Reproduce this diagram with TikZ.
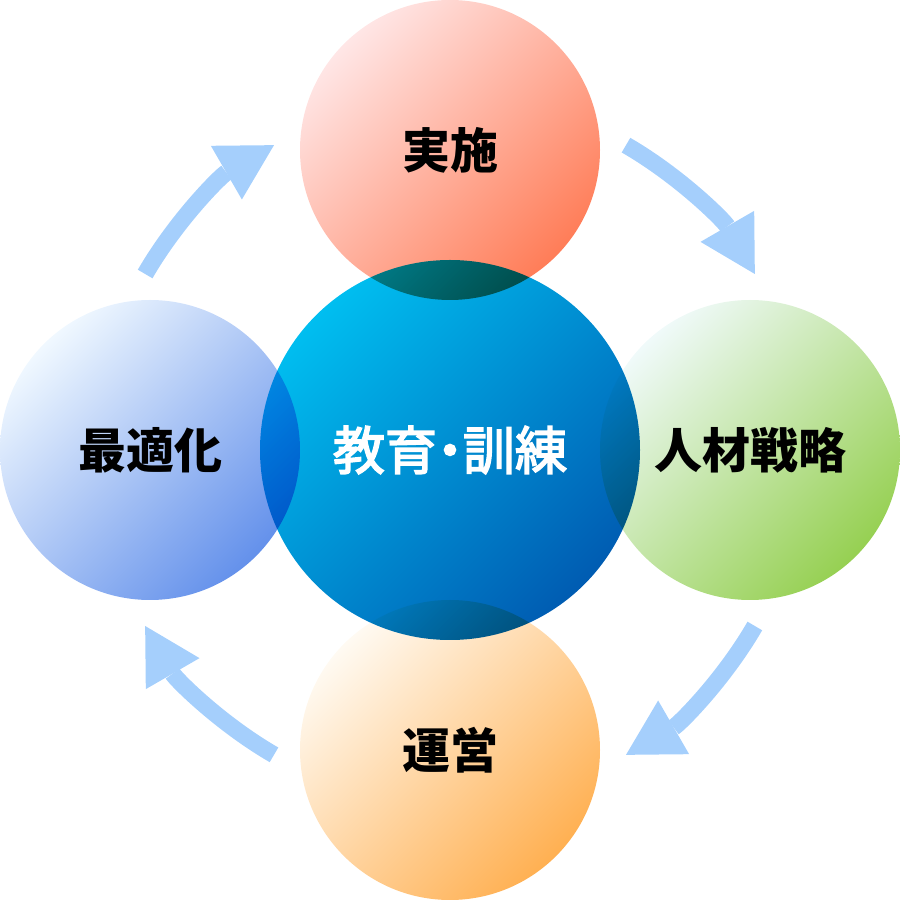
\documentclass[tikz,border=0pt]{standalone}
\usepackage{fontspec}
\usepackage{tikz}
\usetikzlibrary{positioning, shapes, arrows.meta, calc}
\newfontfamily\jpfont{Noto Sans CJK JP}
\newfontfamily\jpmid{Noto Sans CJK JP}[FakeBold=3]

\definecolor{arrowblue}{RGB}{165,207,252}
\definecolor{planA}{RGB}{255,230,230}
\definecolor{planB}{RGB}{255,125,88}
\definecolor{stratA}{RGB}{240,250,250}
\definecolor{stratB}{RGB}{150,208,82}
\definecolor{operA}{RGB}{255,250,242}
\definecolor{operB}{RGB}{255,176,82}
\definecolor{optiA}{RGB}{240,248,255}
\definecolor{optiB}{RGB}{100,145,235}
\definecolor{coreA}{RGB}{0,190,240}
\definecolor{coreB}{RGB}{0,92,178}

\begin{document}
\begin{tikzpicture}[x=1pt, y=1pt,
    ring/.style={circle, minimum size=300pt, inner sep=0pt,
        font=\jpfont\bfseries\fontsize{48}{56}\selectfont},
    fade/.style 2 args={top color=#1, bottom color=#2, shading angle=45},
    cyclearrow/.style={line width=17pt, draw=arrowblue,
        -{Triangle[width=62pt, length=55pt, line width=0pt]}}]
    % Fix the canvas
    \useasboundingbox (0,0) rectangle (900,900);
    \coordinate (mid) at (450,450);

    % Draw the outer circles
    \node[ring, fade={planA}{planB}] (plan) at ($(mid)+(0,300)$) {実施};
    \node[ring, fade={stratA}{stratB}] (strategy) at ($(mid)+(300,0)$) {人材戦略};
    \node[ring, fade={operA}{operB}] (operation) at ($(mid)+(0,-300)$) {運営};
    \node[ring, fade={optiA}{optiB}] (optimize) at ($(mid)+(-300,0)$) {最適化};

    % Centre circle, multiplied over the others
    \begin{scope}[blend mode=multiply]
        \node[circle, minimum size=380pt, inner sep=0pt, fade={coreA}{coreB}] (corering) at (mid) {};
    \end{scope}
    \node[font=\jpmid\fontsize{52}{60}\selectfont, text=white] (core) at (corering.center)
        {教育\kern-.25em・\kern-.25em訓練};

    % Draw the cycle arrows
    \foreach \a in {150,60,-30,-120}
        \draw[cyclearrow] ([shift={(\a:352)}]corering.center) arc[start angle=\a, end angle=\a-30, radius=352];
\end{tikzpicture}
\end{document}
